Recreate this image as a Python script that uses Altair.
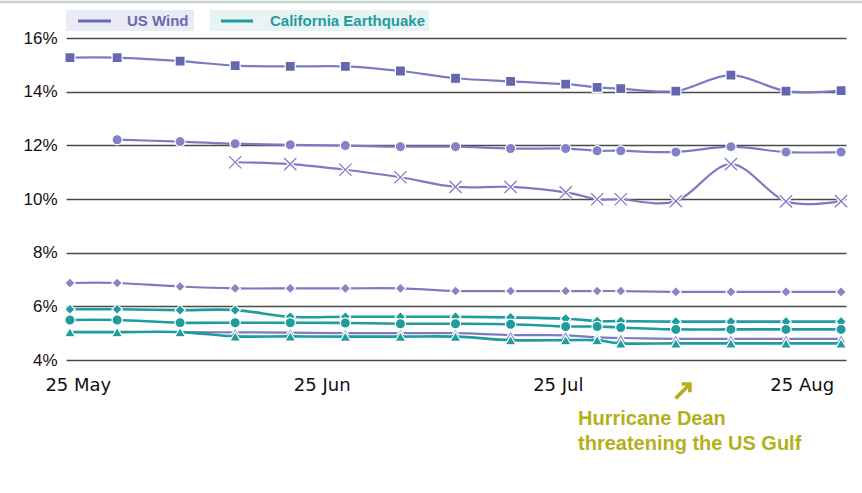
import altair as alt
import pandas as pd

dates = ["2007-05-24", "2007-05-30", "2007-06-07", "2007-06-14", "2007-06-21", "2007-06-28",
         "2007-07-05", "2007-07-12", "2007-07-19", "2007-07-26", "2007-07-30", "2007-08-02",
         "2007-08-09", "2007-08-16", "2007-08-23", "2007-08-30"]

wind_square = [15.27, 15.27, 15.14, 14.97, 14.94, 14.94, 14.77, 14.50, 14.38, 14.28, 14.16, 14.11, 14.02, 14.62, 14.02, 14.04]
wind_circle = [None, 12.21, 12.14, 12.06, 12.02, 11.99, 11.95, 11.95, 11.88, 11.88, 11.80, 11.80, 11.75, 11.95, 11.75, 11.75]
wind_cross = [None, None, None, 11.37, 11.30, 11.09, 10.81, 10.45, 10.45, 10.25, 9.99, 9.99, 9.92, 11.30, 9.91, 9.92]
wind_diamond = [6.87, 6.87, 6.74, 6.67, 6.67, 6.67, 6.67, 6.57, 6.57, 6.57, 6.57, 6.57, 6.54, 6.54, 6.54, 6.54]
wind_triangle = [None, None, 5.04, 5.03, 5.02, 5.00, 5.00, 5.00, 4.93, 4.92, 4.84, 4.82, 4.79, 4.79, 4.79, 4.79]
quake_diamond = [5.89, 5.89, 5.86, 5.86, 5.61, 5.61, 5.61, 5.61, 5.59, 5.54, 5.45, 5.45, 5.43, 5.43, 5.43, 5.43]
quake_circle = [5.49, 5.49, 5.39, 5.39, 5.39, 5.38, 5.35, 5.35, 5.33, 5.25, 5.25, 5.21, 5.14, 5.14, 5.14, 5.14]
quake_triangle = [5.04, 5.04, 5.04, 4.88, 4.88, 4.87, 4.87, 4.87, 4.74, 4.74, 4.74, 4.62, 4.62, 4.62, 4.62, 4.62]

legend_labels = ["US Wind", "California Earthquake"]
annotation_lines = ["Hurricane Dean", "threatening the US Gulf"]
y_ticks = [4, 6, 8, 10, 12, 14, 16]

PURPLE_LINE = "#7c7bc2"
TEAL = "#1f9c9e"
OLIVE = "#b3b01c"

series_defs = [
    ("wind_square", "wind", wind_square, "square", "#6466ae"),
    ("wind_circle", "wind", wind_circle, "circle", "#8382c7"),
    ("wind_cross", "wind", wind_cross, "cross", "#7f7ec6"),
    ("wind_diamond", "wind", wind_diamond, "diamond", "#8885c8"),
    ("wind_triangle", "wind", wind_triangle, "triangle-up", "#9a98d2"),
    ("quake_diamond", "quake", quake_diamond, "diamond", TEAL),
    ("quake_circle", "quake", quake_circle, "circle", TEAL),
    ("quake_triangle", "quake", quake_triangle, "triangle-up", TEAL),
]

rows = []
for name, grp, vals, shape, col in series_defs:
    for d, v in zip(dates, vals):
        if v is not None:
            rows.append({"date": d, "value": v, "series": name, "group": grp, "shape": shape})
df = pd.DataFrame(rows)

x_enc = alt.X("date:T",
              scale=alt.Scale(type="utc",
                              domain=[alt.DateTime(year=2007, month=5, date=23, hours=12, utc=True),
                                      alt.DateTime(year=2007, month=8, date=30, hours=15, utc=True)]),
              axis=alt.Axis(values=[alt.DateTime(year=2007, month=5, date=25, utc=True),
                                    alt.DateTime(year=2007, month=6, date=25, utc=True),
                                    alt.DateTime(year=2007, month=7, date=25, utc=True),
                                    alt.DateTime(year=2007, month=8, date=25, utc=True)],
                            format="%-d %b", grid=False, domain=False, ticks=False,
                            labelFont="DejaVu Sans", labelFontSize=18, labelColor="#111111",
                            labelPadding=16, labelFlush=False, labelOverlap=False),
              title=None)
y_enc = alt.Y("value:Q",
              scale=alt.Scale(domain=[4, 16], nice=False, zero=False),
              axis=alt.Axis(values=y_ticks, labelExpr="datum.value + '%'", grid=True,
                            gridColor="#4a4a4a", gridWidth=1.7, domain=False, ticks=False,
                            labelFont="Liberation Sans", labelFontSize=17, labelColor="#111111",
                            labelPadding=9),
              title=None)

color_scale = alt.Scale(domain=[s[0] for s in series_defs], range=[s[4] for s in series_defs])
shape_scale = alt.Scale(domain=["square", "circle", "diamond", "triangle-up"],
                        range=["square", "circle", "diamond", "triangle-up"])
size_scale = alt.Scale(domain=["square", "circle", "diamond", "triangle-up"],
                       range=[100, 115, 110, 115])

base = alt.Chart(df).encode(x=x_enc, y=y_enc)

wind_lines = base.transform_filter(alt.datum.group == "wind").mark_line(
    interpolate="cardinal", strokeWidth=2.2, color=PURPLE_LINE
).encode(detail="series:N")

wind_pts = base.transform_filter(
    (alt.datum.group == "wind") & (alt.datum.shape != "cross")
).mark_point(filled=True, opacity=1, stroke="white", strokeWidth=1.2).encode(
    shape=alt.Shape("shape:N", scale=shape_scale, legend=None),
    color=alt.Color("series:N", scale=color_scale, legend=None),
    size=alt.Size("shape:N", scale=size_scale, legend=None),
)

xpath = "M-1,-1L1,1M-1,1L1,-1"
cross_halo = base.transform_filter(alt.datum.shape == "cross").mark_point(
    shape=xpath, filled=False, stroke="white", strokeWidth=4, size=150, opacity=1)
cross_pts = base.transform_filter(alt.datum.shape == "cross").mark_point(
    shape=xpath, filled=False, stroke="#7f7ec6", strokeWidth=1.3, size=150, opacity=1)

quake_lines = base.transform_filter(alt.datum.group == "quake").mark_line(
    interpolate="cardinal", strokeWidth=2.6, color=TEAL
).encode(detail="series:N")

quake_pts = base.transform_filter(alt.datum.group == "quake").mark_point(
    filled=True, opacity=1, stroke="white", strokeWidth=1.2, color=TEAL).encode(
    shape=alt.Shape("shape:N", scale=shape_scale, legend=None),
    size=alt.Size("shape:N", scale=size_scale, legend=None),
)

one = pd.DataFrame({"a": [0]})

top_rule = alt.Chart(one).mark_rule(color="#c3d1ca", strokeWidth=2.5).encode(
    x=alt.value(-66), x2=alt.value(800), y=alt.value(-36))

leg_box1 = alt.Chart(one).mark_rect(color="#ebebf6").encode(
    x=alt.value(0), x2=alt.value(128), y=alt.value(-28), y2=alt.value(-7))
leg_box2 = alt.Chart(one).mark_rect(color="#e8f4f3").encode(
    x=alt.value(144), x2=alt.value(363), y=alt.value(-28), y2=alt.value(-7))
leg_line1 = alt.Chart(one).mark_rule(color="#6a6ab0", strokeWidth=3).encode(
    x=alt.value(12), x2=alt.value(45), y=alt.value(-17))
leg_line2 = alt.Chart(one).mark_rule(color=TEAL, strokeWidth=3).encode(
    x=alt.value(155), x2=alt.value(187), y=alt.value(-17))
leg_text1 = alt.Chart(one).mark_text(text=legend_labels[0], font="Liberation Sans", fontWeight="bold",
                                     fontSize=15, color="#6a6ab0", align="left", baseline="middle").encode(
    x=alt.value(61), y=alt.value(-17))
leg_text2 = alt.Chart(one).mark_text(text=legend_labels[1], font="Liberation Sans", fontWeight="bold",
                                     fontSize=15, color=TEAL, align="left", baseline="middle").encode(
    x=alt.value(204), y=alt.value(-17))

annot = alt.Chart(one).mark_text(text=annotation_lines, font="Liberation Sans", fontWeight="bold",
                                 fontSize=20, color=OLIVE, align="left", baseline="alphabetic",
                                 lineHeight=25).encode(x=alt.value(512), y=alt.value(387))
arrow_path = "M-0.85,0.85L0.6,-0.6M-0.15,-0.8L0.8,-0.8L0.8,0.15"
arrow = alt.Chart(one).mark_point(shape=arrow_path, filled=False, stroke=OLIVE, strokeWidth=3.6,
                                  size=300, opacity=1, strokeCap="butt").encode(
    x=alt.value(617), y=alt.value(353))

chart = alt.layer(
    top_rule, leg_box1, leg_box2, leg_line1, leg_line2, leg_text1, leg_text2,
    wind_lines, wind_pts, cross_halo, cross_pts, quake_lines, quake_pts, annot, arrow
).properties(
    width=780, height=322,
    padding={"left": 66, "top": 38, "right": 16, "bottom": 133},
    autosize=alt.AutoSizeParams(type="none"),
    background="white",
).configure_view(stroke=None)

chart.save("out.html", embed_options={"renderer": "svg", "actions": False})
